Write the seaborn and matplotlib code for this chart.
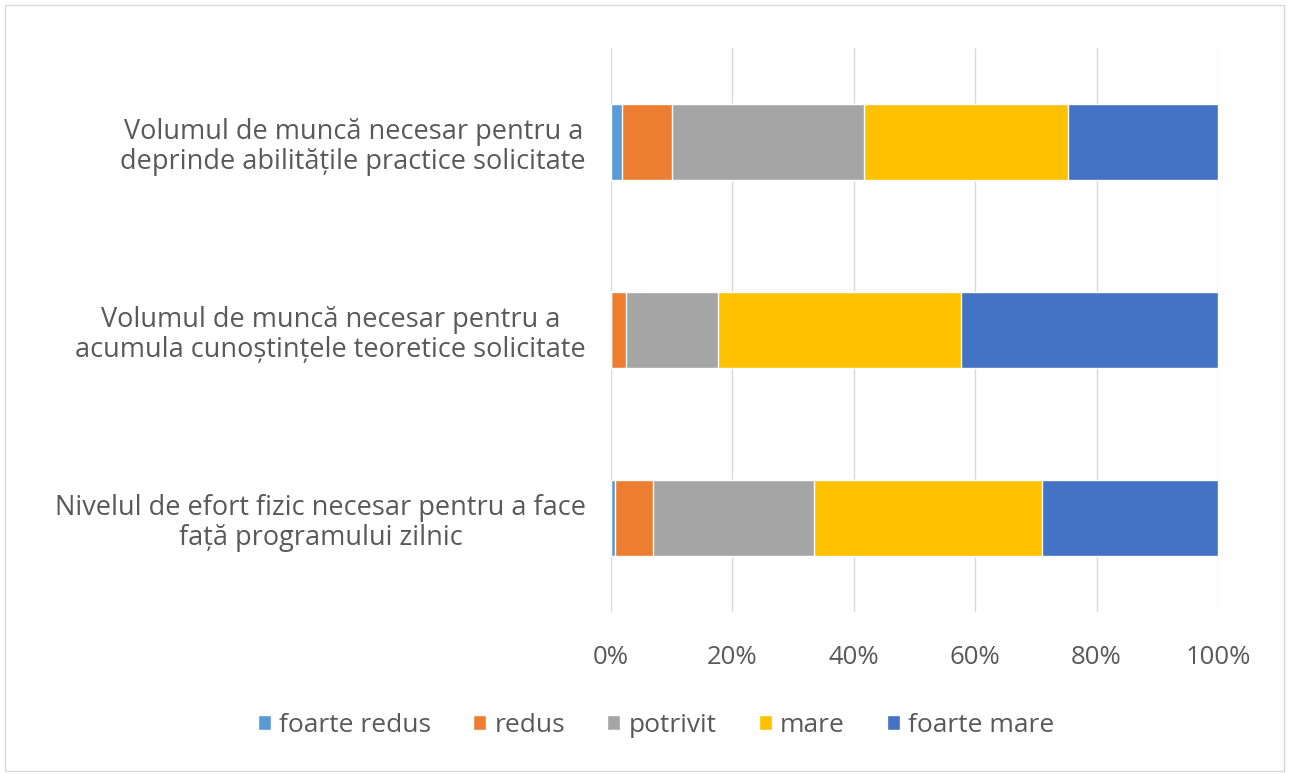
import matplotlib.pyplot as plt
import seaborn as sns
import pandas as pd
import numpy as np
from matplotlib.patches import Patch

categories = [
    "Volumul de muncă necesar pentru a\ndeprinde abilitățile practice solicitate",
    "Volumul de muncă necesar pentru a\nacumula cunoștințele teoretice solicitate",
    "Nivelul de efort fizic necesar pentru a face\nfață programului zilnic",
]
levels = ["foarte redus", "redus", "potrivit", "mare", "foarte mare"]
foarte_redus = [1.8, 0.0, 0.7]
redus = [8.2, 2.4, 6.2]
potrivit = [31.7, 15.2, 26.5]
mare = [33.6, 40.1, 37.6]
foarte_mare = [24.7, 42.3, 29.0]

colors = ["#5B9BD5", "#ED7D31", "#A5A5A5", "#FFC000", "#4472C4"]
text_col = "#595959"

df = pd.DataFrame({"cat": categories, "foarte redus": foarte_redus, "redus": redus,
                   "potrivit": potrivit, "mare": mare, "foarte mare": foarte_mare})
cum = df[levels].cumsum(axis=1)
cum["cat"] = df["cat"]

sns.set_style("white")
plt.rcParams['font.family'] = ['Open Sans', 'DejaVu Sans']

fig = plt.figure(figsize=(12.89, 7.74), dpi=100)
ax = fig.add_axes([611 / 1289, 1 - 612 / 774, 607 / 1289, 564 / 774])

# draw cumulative layers from the widest back so each segment shows
for lvl, col in reversed(list(zip(levels, colors))):
    sns.barplot(data=cum, x=lvl, y="cat", color=col, width=0.4, ax=ax,
                saturation=1, orient="h")

ax.set_xlim(0, 100)
ax.set_xticks(np.arange(0, 101, 20))
ax.set_xticklabels([f"{v}%" for v in range(0, 101, 20)], fontsize=18.5, color=text_col)
ax.tick_params(axis="x", length=0, pad=24)
ax.tick_params(axis="y", length=0, pad=18)
for lab in ax.get_yticklabels():
    lab.set_fontsize(19.5)
    lab.set_color(text_col)
    lab.set_multialignment("center")
    lab.set_linespacing(1.1)
ax.grid(axis="x", color="#D9D9D9", linewidth=1)
ax.set_axisbelow(True)
for s in ax.spines.values():
    s.set_visible(False)
ax.set_xlabel("")
ax.set_ylabel("")

handles = [Patch(facecolor=c, label=l) for l, c in zip(levels, colors)]
fig.legend(handles=handles, loc="center", bbox_to_anchor=(656 / 1289, 1 - 725 / 774),
           ncol=5, frameon=False, fontsize=19, labelcolor=text_col,
           handlelength=0.5, handleheight=0.5, handletextpad=0.3, columnspacing=1.6)

fig.patches.append(plt.Rectangle((0.004, 0.004), 0.992, 0.99, transform=fig.transFigure,
                                 fill=False, edgecolor="#D9D9D9", linewidth=1))

fig.savefig("out.png", dpi=100)
